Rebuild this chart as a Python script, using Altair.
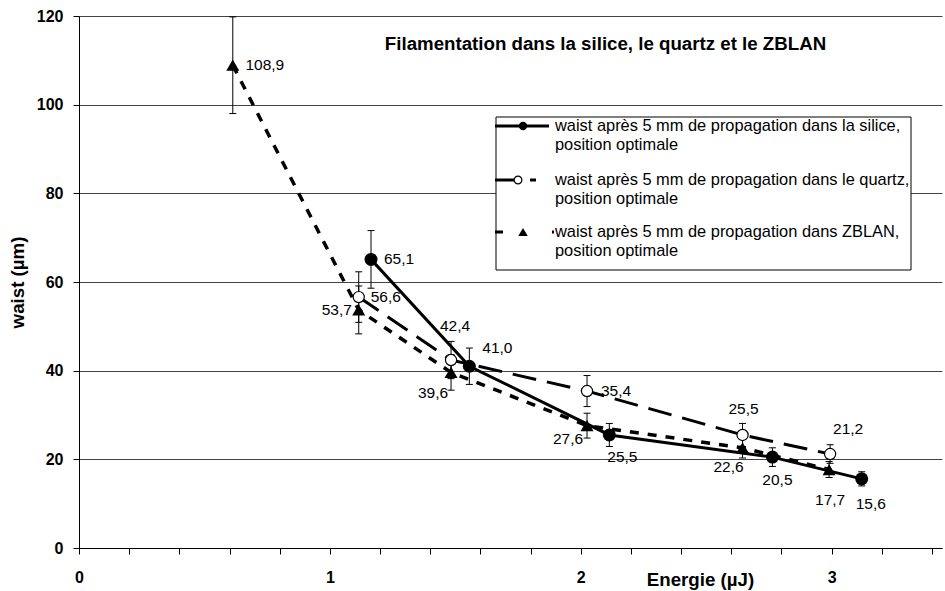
import altair as alt
import pandas as pd

# Energie (µJ), waist (µm) and error (µm) for each material
silice_energy = [1.164, 1.556, 2.114, 2.764, 3.12]
silice_waist = [65.1, 41.0, 25.5, 20.5, 15.6]
silice_err = [6.5, 4.1, 2.6, 2.1, 1.6]

quartz_energy = [1.115, 1.483, 2.025, 2.645, 2.994]
quartz_waist = [56.6, 42.4, 35.4, 25.5, 21.2]
quartz_err = [5.7, 4.2, 3.5, 2.6, 2.1]

zblan_energy = [0.613, 1.115, 1.483, 2.025, 2.645, 2.99]
zblan_waist = [108.9, 53.7, 39.6, 27.6, 22.6, 17.7]
zblan_err = [10.9, 5.4, 4.0, 2.8, 2.3, 1.8]

x_ticks = [0, 0.2, 0.4, 0.6, 0.8, 1, 1.2, 1.4, 1.6, 1.8, 2, 2.2, 2.4, 2.6,
           2.8, 3, 3.2, 3.4]
y_ticks = [0, 20, 40, 60, 80, 100, 120]

title_text = "Filamentation dans la silice, le quartz et le ZBLAN"
legend_texts = [
    "waist après 5 mm de propagation dans la silice,\nposition optimale",
    "waist après 5 mm de propagation dans le quartz,\nposition optimale",
    "waist après 5 mm de propagation dans ZBLAN,\nposition optimale",
]

# pixel offsets of each value label from its point
silice_label_dx = [28, 28, 13, 5, 9]
silice_label_dy = [0, -18, 22, 23, 25]
quartz_label_dx = [27, 4, 29, 1, 18]
quartz_label_dy = [0, -34, 0, -26, -25]
zblan_label_dx = [32, -22, -18, -19, -14, 1]
zblan_label_dy = [0, 0, 21, 13, 19, 30]

FONT = "Liberation Sans"
W, H = 863, 532

x_scale = alt.Scale(domain=[0, 3.44], nice=False, zero=False)
y_scale = alt.Scale(domain=[0, 120], nice=False, zero=True)

x_axis = alt.Axis(
    values=x_ticks,
    labelExpr="abs(datum.value - round(datum.value)) < 0.001 ? format(datum.value, 'd') : ''",
    labelFlush=False, labelOverlap=False, grid=False,
    tickSize=6, tickColor="black", tickWidth=1,
    domainColor="black", domainWidth=1,
    labelFont=FONT, labelFontSize=16, labelFontWeight="bold", labelColor="black",
    labelPadding=15,
    title="Energie (µJ)", titleFont=FONT, titleFontSize=18.7, titleFontWeight="bold",
    titleColor="black", titleX=621, titleY=37, titleAlign="center",
    titleBaseline="alphabetic", titleAngle=0,
)
y_axis = alt.Axis(
    values=y_ticks, format="d", grid=True, gridColor="#444444", gridWidth=1,
    tickSize=6, tickColor="black", tickWidth=1,
    domainColor="black", domainWidth=1,
    labelFont=FONT, labelFontSize=16, labelFontWeight="bold", labelColor="black",
    labelPadding=10,
    title="waist (µm)", titleFont=FONT, titleFontSize=18.7, titleFontWeight="bold",
    titleColor="black", titleX=-56, titleY=266, titleAlign="center",
    titleBaseline="alphabetic", titleAngle=270,
)


def series_frame(energy, waist, err, dx, dy):
    return pd.DataFrame({
        "energie": energy,
        "waist": waist,
        "lo": [w - e for w, e in zip(waist, err)],
        "hi": [w + e for w, e in zip(waist, err)],
        "label": [f"{w:.1f}".replace(".", ",") for w in waist],
        "dx": dx,
        "dy": dy,
    })


silice = series_frame(silice_energy, silice_waist, silice_err, silice_label_dx, silice_label_dy)
quartz = series_frame(quartz_energy, quartz_waist, quartz_err, quartz_label_dx, quartz_label_dy)
zblan = series_frame(zblan_energy, zblan_waist, zblan_err, zblan_label_dx, zblan_label_dy)

# every layer shares the same scales and axis definitions
X = alt.X("energie:Q", scale=x_scale, axis=x_axis)
Y = alt.Y("waist:Q", scale=y_scale, axis=y_axis)
Y_LO = alt.Y("lo:Q", scale=y_scale, axis=y_axis)
Y_HI = alt.Y("hi:Q", scale=y_scale, axis=y_axis)

cap_shape = "M-1,0L1,0"


def error_layers(df):
    base = alt.Chart(df)
    bar = base.mark_rule(color="black", strokeWidth=1).encode(x=X, y=Y_LO, y2="hi:Q")
    cap_lo = base.mark_point(shape=cap_shape, size=49, filled=False, color="black",
                             strokeWidth=1, opacity=1).encode(x=X, y=Y_LO)
    cap_hi = base.mark_point(shape=cap_shape, size=49, filled=False, color="black",
                             strokeWidth=1, opacity=1).encode(x=X, y=Y_HI)
    return [bar, cap_lo, cap_hi]


def line_layer(df, dash, width):
    kw = {"strokeDash": dash} if dash else {}
    return alt.Chart(df).mark_line(color="black", strokeWidth=width, **kw).encode(x=X, y=Y)


def label_layer(df):
    return alt.Chart(df).mark_text(
        font=FONT, fontSize=15.5, color="black", align="center", baseline="middle",
        dx=alt.ExprRef(expr="datum.dx"), dy=alt.ExprRef(expr="datum.dy"),
    ).encode(x=X, y=Y, text="label:N")


silice_pts = alt.Chart(silice).mark_point(
    shape="circle", size=169, filled=True, color="black", opacity=1).encode(x=X, y=Y)
quartz_pts = alt.Chart(quartz).mark_point(
    shape="circle", size=125, filled=True, fill="white", stroke="black",
    strokeWidth=1.2, opacity=1).encode(x=X, y=Y)
zblan_pts = alt.Chart(zblan).mark_point(
    shape="triangle-up", size=170, filled=True, color="black", opacity=1).encode(x=X, y=Y)

# legend box, drawn in pixel space
one = pd.DataFrame({"k": [0]})
legend_layers = [
    alt.Chart(one).mark_rect(fill="white", stroke="black", strokeWidth=1).encode(
        x=alt.value(417), x2=alt.value(832), y=alt.value(101), y2=alt.value(254))
]
legend_rows = [
    # (row centre, line end, line dash, marker x, marker props)
    (110, 470, None, 444, dict(shape="circle", size=70, filled=True, color="black")),
    (164, 457, [24, 11], 439, dict(shape="circle", size=60, filled=True, fill="white",
                                   stroke="black", strokeWidth=1.2)),
    (216, 475, [8, 49], 444, dict(shape="triangle-up", size=90, filled=True, color="black")),
]
for (cy, x_end, dash, mx, mprops), txt in zip(legend_rows, legend_texts):
    kw = {"strokeDash": dash} if dash else {}
    legend_layers.append(
        alt.Chart(one).mark_rule(color="black", strokeWidth=3, **kw).encode(
            x=alt.value(416), x2=alt.value(x_end), y=alt.value(cy)))
    legend_layers.append(
        alt.Chart(one).mark_point(opacity=1, **mprops).encode(
            x=alt.value(mx), y=alt.value(cy)))
    legend_layers.append(
        alt.Chart(one).mark_text(
            text=txt, lineBreak="\n", font=FONT, fontSize=16.4, color="black",
            align="left", baseline="alphabetic", lineHeight=19).encode(
            x=alt.value(476), y=alt.value(cy + 5)))

layers = []
layers += error_layers(zblan) + error_layers(quartz) + error_layers(silice)
layers += [
    line_layer(zblan, [9, 9], 3.5),
    line_layer(quartz, [24, 11], 3),
    line_layer(silice, None, 3),
    zblan_pts, quartz_pts, silice_pts,
    label_layer(zblan), label_layer(quartz), label_layer(silice),
]
layers += legend_layers

chart = alt.layer(*layers).properties(
    width=W,
    height=H,
    autosize=alt.AutoSizeParams(type="none"),
    padding={"left": 79, "top": 16, "right": 3, "bottom": 43},
    background="white",
    title=alt.TitleParams(
        text=title_text, font=FONT, fontSize=18.7, fontWeight="bold", color="black",
        anchor="middle", frame="group", orient="top", baseline="alphabetic",
        offset=0, dx=95, dy=61,
    ),
).configure_view(stroke=None)

chart.save("out.html", embed_options={"renderer": "svg", "actions": False})
